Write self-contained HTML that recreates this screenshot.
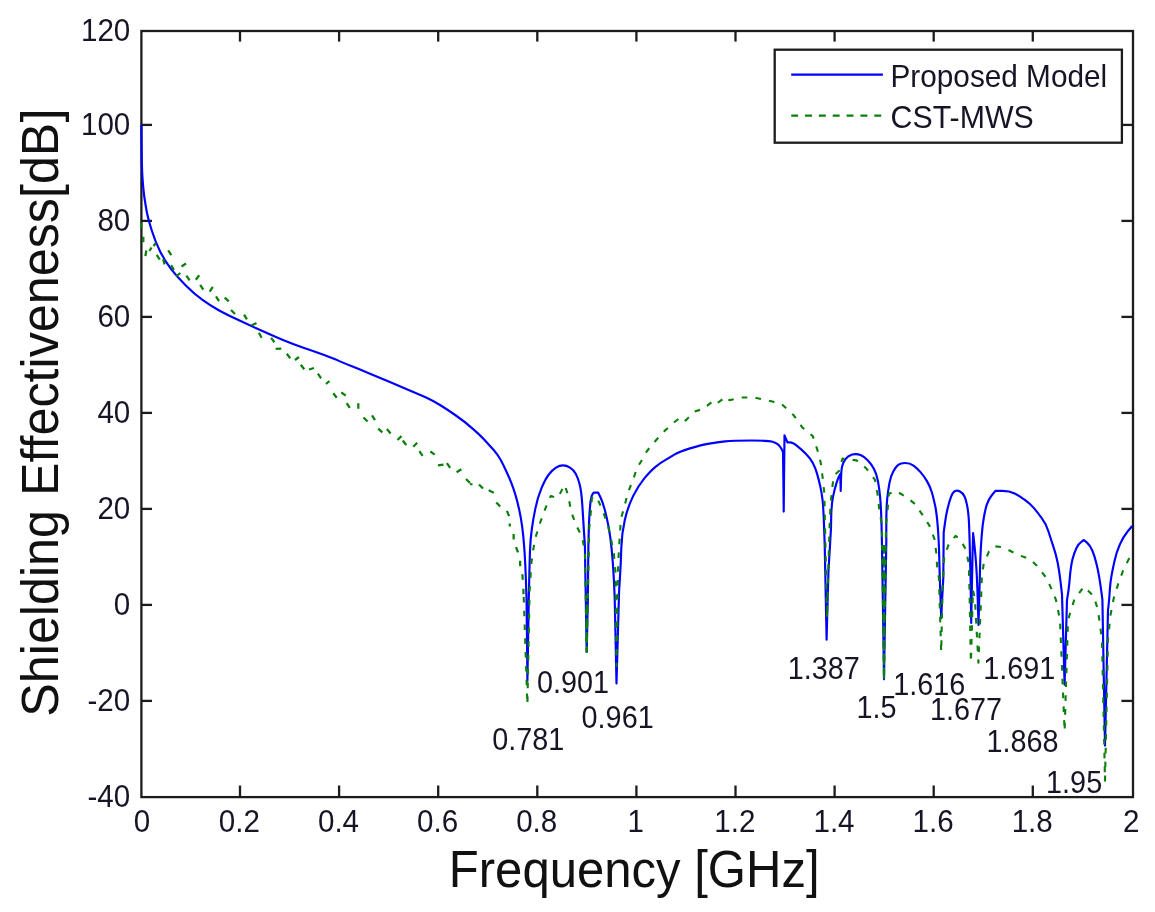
<!DOCTYPE html>
<html><head><meta charset="utf-8"><title>Shielding Effectiveness</title>
<style>
html,body{margin:0;padding:0;background:#fff;}
body{width:1155px;height:912px;overflow:hidden;}
svg{display:block;filter:blur(0.55px);}
text{font-family:"Liberation Sans", sans-serif;}
.s{font-size:32.00px;fill:#181426;}
.b{font-size:51.00px;fill:#111113;}
</style></head><body>
<svg width="1155" height="912" viewBox="0 0 1155 912">
<rect x="0" y="0" width="1155" height="912" fill="#ffffff"/>
<g stroke="#1c1c1c" stroke-width="2.3" fill="none" stroke-linecap="butt">
<rect x="141.4" y="31.0" width="991.6" height="766.1"/>
<line x1="240.0" y1="797.1" x2="240.0" y2="785.5"/>
<line x1="240.0" y1="31.0" x2="240.0" y2="41.6"/>
<line x1="339.1" y1="797.1" x2="339.1" y2="785.5"/>
<line x1="339.1" y1="31.0" x2="339.1" y2="41.6"/>
<line x1="438.2" y1="797.1" x2="438.2" y2="785.5"/>
<line x1="438.2" y1="31.0" x2="438.2" y2="41.6"/>
<line x1="537.3" y1="797.1" x2="537.3" y2="785.5"/>
<line x1="537.3" y1="31.0" x2="537.3" y2="41.6"/>
<line x1="636.4" y1="797.1" x2="636.4" y2="785.5"/>
<line x1="636.4" y1="31.0" x2="636.4" y2="41.6"/>
<line x1="735.5" y1="797.1" x2="735.5" y2="785.5"/>
<line x1="735.5" y1="31.0" x2="735.5" y2="41.6"/>
<line x1="834.6" y1="797.1" x2="834.6" y2="785.5"/>
<line x1="834.6" y1="31.0" x2="834.6" y2="41.6"/>
<line x1="933.7" y1="797.1" x2="933.7" y2="785.5"/>
<line x1="933.7" y1="31.0" x2="933.7" y2="41.6"/>
<line x1="1032.8" y1="797.1" x2="1032.8" y2="785.5"/>
<line x1="1032.8" y1="31.0" x2="1032.8" y2="41.6"/>
<line x1="141.4" y1="124.9" x2="152.0" y2="124.9"/>
<line x1="1133.0" y1="124.9" x2="1121.4" y2="124.9"/>
<line x1="141.4" y1="220.9" x2="152.0" y2="220.9"/>
<line x1="1133.0" y1="220.9" x2="1121.4" y2="220.9"/>
<line x1="141.4" y1="316.9" x2="152.0" y2="316.9"/>
<line x1="1133.0" y1="316.9" x2="1121.4" y2="316.9"/>
<line x1="141.4" y1="412.9" x2="152.0" y2="412.9"/>
<line x1="1133.0" y1="412.9" x2="1121.4" y2="412.9"/>
<line x1="141.4" y1="508.9" x2="152.0" y2="508.9"/>
<line x1="1133.0" y1="508.9" x2="1121.4" y2="508.9"/>
<line x1="141.4" y1="604.9" x2="152.0" y2="604.9"/>
<line x1="1133.0" y1="604.9" x2="1121.4" y2="604.9"/>
<line x1="141.4" y1="700.9" x2="152.0" y2="700.9"/>
<line x1="1133.0" y1="700.9" x2="1121.4" y2="700.9"/>
</g>
<g fill="none" stroke-linejoin="round" stroke-linecap="butt">
<path stroke="#0000ff" stroke-width="2.15" d="M141.4,125.0 Q141.6,163.0 142.3,175.0 Q143.0,187.0 144.2,196.0 Q145.5,205.0 146.8,212.0 Q148.2,219.0 151.7,230.3 Q155.2,241.6 160.0,251.2 Q164.8,260.9 170.9,268.8 Q177.1,276.7 185.8,285.4 Q194.6,294.2 202.5,299.9 Q210.4,305.6 218.3,310.0 Q226.2,314.4 238.5,320.1 Q250.8,325.8 261.3,330.6 Q271.8,335.4 282.4,339.8 Q292.9,344.2 303.4,347.7 Q313.9,351.2 323.5,354.7 Q333.2,358.2 337.9,360.4 Q342.5,362.5 351.3,366.0 Q360.1,369.5 370.6,373.9 Q381.1,378.2 389.9,382.0 Q398.7,385.8 407.4,389.5 Q416.2,393.2 425.0,397.1 Q433.8,401.1 440.8,405.5 Q447.8,409.8 456.6,416.0 Q465.4,422.1 473.2,429.1 Q481.1,436.1 485.5,441.0 Q489.9,445.8 493.9,450.2 Q497.8,454.6 500.9,460.3 Q503.9,466.0 506.5,471.7 Q509.2,477.4 511.4,483.1 Q513.6,488.8 515.5,495.1 Q517.4,501.4 519.1,509.3 Q520.9,517.2 522.2,526.9 Q523.5,536.5 524.4,549.6 Q525.3,562.8 525.9,580.3 L526.5,597.9 L527.0,639.4 L527.4,680.9 L528.1,639.4 L528.8,597.9 L529.2,580.3 Q529.6,562.8 530.0,550.5 Q530.5,538.2 531.9,528.5 Q533.2,518.9 535.4,508.4 Q537.5,497.9 541.5,488.2 Q545.4,478.6 549.0,474.2 Q552.5,469.8 556.0,467.6 Q559.5,465.4 563.0,465.4 Q566.5,465.4 570.0,467.6 Q573.5,469.8 575.7,473.8 Q577.9,477.7 579.6,484.3 Q581.4,490.9 582.3,504.9 Q583.2,518.9 584.0,532.1 L584.9,545.3 L585.3,571.6 L585.8,597.9 L586.2,625.0 L586.7,652.0 L587.3,625.0 L587.9,597.9 L588.1,571.6 L588.4,545.3 L588.8,529.5 Q589.3,513.7 590.2,504.9 Q591.1,496.1 592.4,494.4 L593.7,492.6 L595.9,492.6 L598.1,492.6 L600.3,497.0 Q602.5,501.4 604.6,509.3 Q606.8,517.2 608.6,526.9 Q610.4,536.5 611.7,549.6 Q613.0,562.8 613.9,580.3 L614.7,597.9 L615.6,640.7 L616.5,683.5 L617.8,637.2 L619.1,590.9 L620.0,576.8 Q620.9,562.8 621.3,547.9 Q621.8,533.0 624.8,519.9 Q627.9,506.7 633.1,496.1 Q638.4,485.6 644.5,478.1 Q650.7,470.7 655.5,466.8 Q660.4,462.8 665.2,460.1 Q670.0,457.5 674.3,454.7 Q678.6,451.9 690.0,448.4 Q701.4,444.9 709.3,443.6 Q717.2,442.3 725.1,441.4 Q733.0,440.5 751.4,440.5 Q769.8,440.5 773.3,441.9 Q776.8,443.2 778.6,444.9 Q780.4,446.7 781.7,449.3 L783.0,451.9 L783.4,481.8 L783.7,511.6 L784.1,473.5 L784.5,435.3 L786.0,438.8 L787.4,442.3 L790.0,442.3 Q792.6,442.3 797.0,445.8 Q801.4,449.3 805.8,453.7 Q810.2,458.1 812.8,462.9 Q815.4,467.7 817.1,473.9 Q818.9,480.0 820.2,486.1 Q821.6,492.3 822.5,499.3 Q823.3,506.3 823.9,522.1 Q824.5,537.9 824.8,548.7 L825.0,559.5 L825.8,599.6 L826.6,639.7 L827.5,604.9 L828.5,570.0 L829.8,549.0 L831.0,528.0 L831.2,516.0 Q831.5,504.0 833.1,496.4 Q834.7,488.8 836.4,483.4 Q838.1,477.9 839.2,475.9 L840.3,474.0 L840.5,482.5 L840.7,491.0 L841.0,480.5 Q841.2,470.0 842.2,466.1 Q843.3,462.1 845.5,459.1 Q847.7,456.0 852.1,454.6 Q856.5,453.3 860.5,455.1 Q864.4,456.8 867.9,460.4 Q871.4,463.9 874.0,469.1 Q876.7,474.4 878.0,481.4 Q879.3,488.4 880.1,497.2 Q881.0,506.0 881.5,523.5 L881.9,541.0 L883.0,610.1 L884.0,679.3 L885.1,611.0 L886.3,542.8 L886.3,525.2 Q886.3,507.7 887.2,498.9 Q888.1,490.2 889.4,483.1 Q890.7,476.1 893.4,471.3 Q896.0,466.5 898.2,464.8 Q900.4,463.0 905.2,463.0 Q910.0,463.0 913.5,465.6 Q917.0,468.2 920.5,472.1 Q924.0,476.1 927.1,481.4 Q930.2,486.7 932.0,492.8 Q933.7,498.9 935.2,505.9 Q936.7,513.0 937.8,527.0 Q938.9,541.0 939.3,559.5 L939.8,577.9 L940.5,598.0 L941.2,618.0 L942.2,598.0 L943.3,577.9 L943.5,555.1 L943.7,532.3 L944.9,523.5 Q946.0,514.7 947.8,507.7 Q949.5,500.7 951.2,496.3 Q953.0,491.9 955.2,491.0 Q957.4,490.2 960.0,491.5 Q962.6,492.8 964.4,496.3 Q966.1,499.8 967.5,507.6 Q968.8,515.4 969.2,527.7 L969.6,540.0 L970.1,560.0 L970.6,580.0 L970.9,601.5 L971.2,623.0 L971.6,601.5 L972.0,580.0 L972.5,556.5 L973.1,533.0 L973.8,539.0 Q974.5,545.0 975.2,553.0 Q976.0,561.0 976.8,575.5 Q977.5,590.0 978.0,607.5 L978.5,625.0 L979.0,607.5 Q979.5,590.0 979.9,574.0 Q980.3,558.0 980.8,549.0 Q981.3,540.0 982.0,532.3 Q982.6,524.6 983.8,517.7 Q985.0,510.8 986.6,505.1 Q988.3,499.5 991.8,495.2 L995.4,490.9 L1002.4,490.9 Q1009.4,490.9 1014.6,493.5 Q1019.9,496.1 1025.2,500.1 Q1030.4,504.0 1033.5,507.6 Q1036.6,511.1 1041.4,517.7 Q1046.2,524.2 1048.4,531.2 Q1050.6,538.2 1053.2,546.1 Q1055.9,554.0 1057.7,562.8 Q1059.4,571.6 1060.7,583.0 L1062.0,594.4 L1063.3,639.5 L1064.6,684.7 L1065.8,642.4 L1067.0,600.0 L1068.0,593.7 Q1069.0,587.4 1069.9,576.8 Q1070.8,566.3 1072.5,559.3 Q1074.3,552.3 1076.5,547.9 Q1078.7,543.5 1081.3,541.8 L1083.9,540.0 L1087.0,542.6 Q1090.1,545.3 1092.3,550.5 Q1094.5,555.8 1096.2,562.8 Q1098.0,569.8 1099.3,577.7 Q1100.6,585.6 1101.5,592.6 L1102.4,599.6 L1103.7,672.6 L1105.0,745.6 L1106.5,677.8 L1108.0,610.0 L1108.7,604.0 Q1109.4,597.9 1109.8,590.0 Q1110.3,582.1 1111.6,575.1 Q1112.9,568.1 1114.7,560.2 Q1116.4,552.3 1119.9,544.4 Q1123.4,536.5 1127.8,531.2 L1132.2,526.0"/>
<polyline stroke="#0a800a" stroke-width="2.1" stroke-dasharray="5.6 8.2" stroke-dashoffset="-6" points="523.5,590.9 527.4,704.6 529.6,590.9 530.5,576.8 531.4,562.8 533.2,549.6 535.8,536.5 540.2,522.5 545.4,508.4 550.7,496.1 557.7,497.9 564.7,484.7 568.6,497.0 570.9,511.0 576.1,525.1 582.3,537.4 584.9,552.3 586.7,652.0 589.3,527.7 591.0,510.0 591.9,497.9 596.3,496.1 602.5,510.2 607.7,524.2 611.2,540.0 613.9,554.0 615.6,573.3 616.5,666.0 618.2,562.8 619.1,547.0 620.9,518.9 624.4,506.7 627.9,492.6 633.2,479.5 637.5,466.3 640.0,463.3 647.0,451.0 655.8,440.5 664.6,430.9 673.3,423.0 681.2,416.8 685.6,420.4 694.4,411.6 703.2,408.9 711.9,401.9 715.4,404.6 726.0,396.7 729.5,400.2 740.9,397.5 754.0,397.5 767.2,400.2 781.2,403.7 793.5,415.1 802.3,427.4 812.8,436.1 817.2,449.3 820.7,462.5 822.5,476.5 824.2,492.3 824.6,506.3 825.1,529.0 827.0,618.0 829.5,529.0 830.4,506.3 832.1,488.8 833.9,475.6 839.0,470.9 842.5,458.6 856.5,460.4 866.1,468.2 874.9,479.6 877.5,493.7 879.3,509.5 881.9,525.3 884.0,679.3 886.0,525.0 888.1,504.2 888.9,493.7 896.0,491.0 906.5,497.2 915.3,504.2 922.3,514.7 929.3,525.3 934.6,539.3 936.3,553.3 937.2,567.4 938.9,577.9 941.2,652.0 942.5,590.0 944.2,556.8 948.6,544.6 955.6,535.8 960.0,539.3 966.1,549.8 968.8,563.9 969.5,590.0 970.9,662.6 973.0,590.0 975.0,600.0 978.4,662.6 981.0,600.0 981.9,576.1 983.7,563.9 988.9,551.6 994.2,546.3 1003.0,547.2 1018.2,554.9 1030.4,559.3 1036.6,565.4 1046.2,577.7 1052.4,590.9 1055.9,599.6 1060.0,620.0 1064.6,731.2 1068.0,620.0 1074.3,599.6 1083.9,586.5 1093.6,596.1 1098.0,610.0 1102.0,640.0 1105.0,780.7 1108.0,640.0 1110.5,615.0 1113.8,597.9 1118.2,583.9 1123.4,569.8 1128.7,559.3 1132.2,554.0"/>
<path stroke="#0a800a" stroke-width="2.25" d="M141.3,222.7L141.3,228.3 M143.3,236.7L143.3,242.3 M145.4,256.1L146.3,250.5 M149.5,251.0L151.5,247.5 M153.5,246.0L156.0,243.0 M156.7,254.9L159.8,259.6 M163.2,259.1L164.6,264.4 M168.2,250.4L171.3,255.1 M171.1,265.1L173.9,269.9 M176.1,276.5L180.4,273.0 M181.5,266.5L186.0,263.5 M186.4,275.7L189.6,280.3 M195.8,279.7L199.2,275.3 M200.2,284.9L203.3,289.6 M209.7,291.6L212.8,286.9 M216.0,296.4L219.0,301.1 M224.7,297.6L228.8,301.4 M231.0,310.0L235.0,314.0 M244.1,314.6L246.9,319.4 M251.5,325.5L256.5,323.0 M258.9,332.8L261.6,337.7 M271.1,337.8L274.4,342.2 M275.7,348.9L281.3,348.6 M286.8,353.8L290.2,358.2 M295.0,360.0L299.0,357.0 M300.8,364.8L304.2,369.2 M309.0,369.5L314.0,368.0 M317.9,373.7L321.1,378.3 M326.0,384.0L329.5,381.0 M333.3,393.3L336.7,397.7 M341.3,392.3L345.7,395.7 M346.7,403.1L349.8,407.9 M358.3,403.2L358.3,408.8 M363.5,417.5L367.5,421.5 M372.0,415.4L375.0,420.1 M378.2,428.6L382.3,432.4 M386.9,429.1L390.6,433.4 M397.5,440.0L401.5,436.0 M402.8,440.5L406.2,445.0 M413.3,446.7L417.2,442.8 M419.4,451.2L422.6,455.8 M430.3,451.3L434.7,454.7 M438.0,465.4L443.5,464.6 M446.9,463.2L450.1,467.8 M456.6,472.3L461.4,469.2 M466.0,479.0L470.0,483.0 M470.0,484.0L472.5,484.5 M479.0,484.5L483.0,488.5 M488.7,490.3L493.8,492.7 M496.3,502.4L500.2,506.6 M506.9,510.9L509.1,516.1 M509.5,523.5L510.0,526.5 M513.6,534.0L513.7,539.5 M516.0,547.2L518.0,552.3 M520.1,560.7L520.2,566.3 M522.4,574.2L522.7,579.8 M523.4,588.7L523.5,594.3"/>
<line x1="586.7" y1="600" x2="586.7" y2="652" stroke="#0a800a" stroke-width="2.1" stroke-dasharray="11.3 2.6" stroke-dashoffset="-4.2"/>
<line x1="884" y1="545" x2="884" y2="679.3" stroke="#0a800a" stroke-width="2.1" stroke-dasharray="11.3 2.6" stroke-dashoffset="2.6"/>
</g>
<g class="s">
<text transform="translate(141.90 831.80) scale(0.9250 1)" text-anchor="middle">0</text>
<text transform="translate(239.40 831.80) scale(0.9250 1)" text-anchor="middle">0.2</text>
<text transform="translate(338.50 831.80) scale(0.9250 1)" text-anchor="middle">0.4</text>
<text transform="translate(437.60 831.80) scale(0.9250 1)" text-anchor="middle">0.6</text>
<text transform="translate(536.70 831.80) scale(0.9250 1)" text-anchor="middle">0.8</text>
<text transform="translate(635.80 831.80) scale(0.9250 1)" text-anchor="middle">1</text>
<text transform="translate(734.90 831.80) scale(0.9250 1)" text-anchor="middle">1.2</text>
<text transform="translate(834.00 831.80) scale(0.9250 1)" text-anchor="middle">1.4</text>
<text transform="translate(933.10 831.80) scale(0.9250 1)" text-anchor="middle">1.6</text>
<text transform="translate(1032.20 831.80) scale(0.9250 1)" text-anchor="middle">1.8</text>
<text transform="translate(1131.30 831.80) scale(0.9250 1)" text-anchor="middle">2</text>
<text transform="translate(130.30 40.70) scale(0.9250 1)" text-anchor="end">120</text>
<text transform="translate(130.30 134.60) scale(0.9250 1)" text-anchor="end">100</text>
<text transform="translate(130.30 230.60) scale(0.9250 1)" text-anchor="end">80</text>
<text transform="translate(130.30 326.60) scale(0.9250 1)" text-anchor="end">60</text>
<text transform="translate(130.30 422.60) scale(0.9250 1)" text-anchor="end">40</text>
<text transform="translate(130.30 518.60) scale(0.9250 1)" text-anchor="end">20</text>
<text transform="translate(130.30 614.60) scale(0.9250 1)" text-anchor="end">0</text>
<text transform="translate(130.30 710.60) scale(0.9250 1)" text-anchor="end">-20</text>
<text transform="translate(130.30 806.60) scale(0.9250 1)" text-anchor="end">-40</text>
</g>
<g class="s">
<text transform="translate(492.20 750.00) scale(0.9000 1)">0.781</text>
<text transform="translate(536.90 692.60) scale(0.9000 1)">0.901</text>
<text transform="translate(581.60 727.60) scale(0.9000 1)">0.961</text>
<text transform="translate(787.80 678.80) scale(0.9000 1)">1.387</text>
<text transform="translate(856.40 718.30) scale(0.9000 1)">1.5</text>
<text transform="translate(893.20 694.50) scale(0.9000 1)">1.616</text>
<text transform="translate(930.00 720.00) scale(0.9000 1)">1.677</text>
<text transform="translate(983.30 678.90) scale(0.9000 1)">1.691</text>
<text transform="translate(986.50 752.00) scale(0.9000 1)">1.868</text>
<text transform="translate(1046.10 793.20) scale(0.9000 1)">1.95</text>
</g>
<rect x="774.7" y="49.7" width="347.2" height="93.0" fill="#fff" stroke="#1c1c1c" stroke-width="2.3"/>
<line x1="791.2" y1="74.6" x2="882.9" y2="74.6" stroke="#0000ff" stroke-width="2.3"/>
<line x1="791.2" y1="115.7" x2="882.9" y2="115.7" stroke="#0a800a" stroke-width="2.3" stroke-dasharray="6.9 6.95"/>
<g class="s">
<text transform="translate(890.50 86.60) scale(0.9300 1)">Proposed Model</text>
<text transform="translate(890.60 128.20) scale(0.9480 1)">CST-MWS</text>
</g>
<g class="b">
<text transform="translate(634.20 887.20) scale(0.9620 1)" text-anchor="middle">Frequency [GHz]</text>
<text transform="translate(57.8 412.7) rotate(-90) scale(0.9855 1)" text-anchor="middle">Shielding Effectiveness[dB]</text>
</g>
</svg></body></html>
